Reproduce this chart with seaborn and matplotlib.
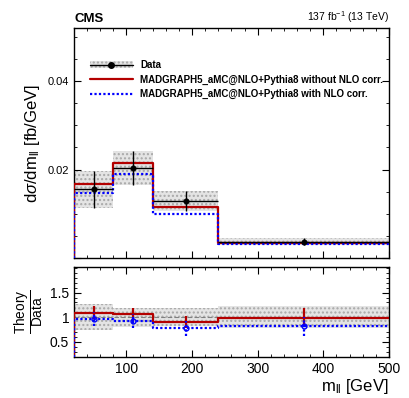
import numpy as np
import pandas as pd
import matplotlib
matplotlib.use("Agg")
import matplotlib.pyplot as plt
import seaborn as sns
from matplotlib.patches import Patch
from matplotlib.lines import Line2D
from matplotlib.ticker import MultipleLocator, FixedLocator, FuncFormatter

# --- Data ---
bin_edges = [20, 80, 140, 240, 500]
bin_centers = [50, 110, 190, 370]
data_xsec = [0.0155, 0.0204, 0.0129, 0.00366]
data_err = [0.0041, 0.0039, 0.0023, 0.0008]
mg_no_corr = [0.0167, 0.0215, 0.0116, 0.0035]
mg_nlo_corr = [0.0148, 0.0190, 0.0100, 0.0031]

ratio_no_corr = [1.09, 1.06, 0.90, 0.99]
ratio_no_corr_err = [0.13, 0.13, 0.13, 0.19]
ratio_nlo_corr = [0.965, 0.93, 0.775, 0.815]
ratio_nlo_corr_err = [0.14, 0.14, 0.15, 0.19]

red = "#b40000"
blue = "#0000ff"

sns.set_theme(style="ticks")
plt.rcParams["font.family"] = ["Liberation Sans", "DejaVu Sans"]
plt.rcParams["mathtext.fontset"] = "custom"
plt.rcParams["mathtext.rm"] = "Liberation Sans"
plt.rcParams["mathtext.it"] = "Liberation Sans:italic"
for k in ("text.color", "axes.labelcolor", "xtick.color", "ytick.color", "axes.edgecolor"):
    plt.rcParams[k] = "black"


def step_frame(vals):
    # histogram outline starting from zero at the first edge
    x = [bin_edges[0]] + bin_edges
    y = [0] + list(vals) + [vals[-1]]
    return pd.DataFrame({"x": x, "y": y})


def step_line(vals, a, **kw):
    sns.lineplot(data=step_frame(vals), x="x", y="y", sort=False, estimator=None,
                 ax=a, drawstyle="steps-post", **kw)


fig = plt.figure(figsize=(4.1, 3.98), dpi=100)
ax = fig.add_axes([0.1805, 0.3518, 0.768, 0.5778])
rax = fig.add_axes([0.1805, 0.103, 0.768, 0.226])

band_kw = dict(facecolor="#e4e4e4", edgecolor="#a8a8a8", hatch="....", linewidth=0)

# --- Top panel ---
lo = np.array(data_xsec) - np.array(data_err)
hi = np.array(data_xsec) + np.array(data_err)
for i in range(4):
    ax.fill_between([bin_edges[i], bin_edges[i + 1]], lo[i], hi[i], zorder=1, **band_kw)
step_line(mg_no_corr, ax, color=red, linewidth=1.6, zorder=3)
step_line(mg_nlo_corr, ax, color=blue, linewidth=1.6, linestyle=(0, (1, 1)), zorder=4)
xerr = [(bin_edges[i + 1] - bin_edges[i]) / 2 for i in range(4)]
ax.errorbar(bin_centers, data_xsec, yerr=data_err, xerr=xerr, fmt="none",
            ecolor="black", elinewidth=1.0, zorder=5)
sns.scatterplot(x=bin_centers, y=data_xsec, ax=ax, color="black", s=16,
                edgecolor="black", zorder=6)

ax.set_xlim(20, 500)
ax.set_ylim(0, 0.052)
ax.yaxis.set_major_locator(MultipleLocator(0.02))
ax.yaxis.set_minor_locator(MultipleLocator(0.005))
ax.yaxis.set_major_formatter(FuncFormatter(lambda v, p: "" if v == 0 else f"{v:g}"))
ax.set_xticklabels([])
ax.set_ylabel(r"d$\sigma$/dm$_{\mathrm{ll}}$ [fb/GeV]", fontsize=12)
ax.set_xlabel("")

data_handle = (Patch(**band_kw),
               Line2D([], [], color="black", marker="o", markersize=4, linewidth=1.0))
handles = [data_handle,
           Line2D([], [], color=red, linewidth=1.6),
           Line2D([], [], color=blue, linewidth=1.6, linestyle=(0, (1, 1)))]
labels = ["Data",
          "MADGRAPH5_aMC@NLO+Pythia8 without NLO corr.",
          "MADGRAPH5_aMC@NLO+Pythia8 with NLO corr."]
ax.legend(handles, labels, loc="upper left", bbox_to_anchor=(0.05, 0.86),
          frameon=False, borderpad=0, borderaxespad=0, handlelength=4.4,
          handletextpad=0.8, labelspacing=0.45,
          prop={"size": 7.0, "weight": "bold"})

ax.text(0.0, 1.012, "CMS", transform=ax.transAxes, fontsize=9.5,
        fontweight="bold", ha="left", va="bottom")
ax.text(1.0, 1.012, r"137 fb$^{-1}$ (13 TeV)", transform=ax.transAxes,
        fontsize=7.5, ha="right", va="bottom")

# --- Ratio panel ---
rel = np.array(data_err) / np.array(data_xsec)
for i in range(4):
    rax.fill_between([bin_edges[i], bin_edges[i + 1]], 1 - rel[i], 1 + rel[i],
                     zorder=1, **band_kw)
rax.axhline(1.0, color="#808080", linestyle=(0, (4, 2)), linewidth=0.8, zorder=2)
step_line(ratio_no_corr, rax, color=red, linewidth=1.6, zorder=3)
rax.errorbar(bin_centers, ratio_no_corr, yerr=ratio_no_corr_err, fmt="none",
             ecolor=red, elinewidth=1.6, zorder=3)
step_line(ratio_nlo_corr, rax, color=blue, linewidth=1.6, linestyle=(0, (1, 1)), zorder=4)
eb = rax.errorbar(bin_centers, ratio_nlo_corr, yerr=ratio_nlo_corr_err, fmt="o",
                  color=blue, markersize=3.5, markerfacecolor="none",
                  elinewidth=1.6, zorder=5)
eb[2][0].set_linestyle((0, (1, 1)))

rax.set_xlim(20, 500)
rax.set_ylim(0.19, 2.02)
rax.yaxis.set_major_locator(FixedLocator([0.5, 1.0, 1.5]))
rax.yaxis.set_minor_locator(MultipleLocator(0.1))
rax.yaxis.set_major_formatter(FuncFormatter(lambda v, p: f"{v:g}"))
rax.set_ylabel(r"$\frac{\mathrm{Theory}}{\mathrm{Data}}$", fontsize=14, labelpad=2)
rax.set_xlabel(r"m$_{\mathrm{ll}}$ [GeV]", fontsize=12, loc="right", labelpad=1)

for a in (ax, rax):
    a.xaxis.set_major_locator(MultipleLocator(100))
    a.xaxis.set_minor_locator(MultipleLocator(20))
    a.tick_params(which="both", direction="in", top=True, right=True)
    a.tick_params(which="major", length=5, width=0.8)
    a.tick_params(which="minor", length=2.5, width=0.6)
    for s in a.spines.values():
        s.set_linewidth(1.0)
ax.tick_params(axis="y", labelsize=8)
rax.tick_params(axis="both", labelsize=10)

fig.savefig("out.png", dpi=100)
